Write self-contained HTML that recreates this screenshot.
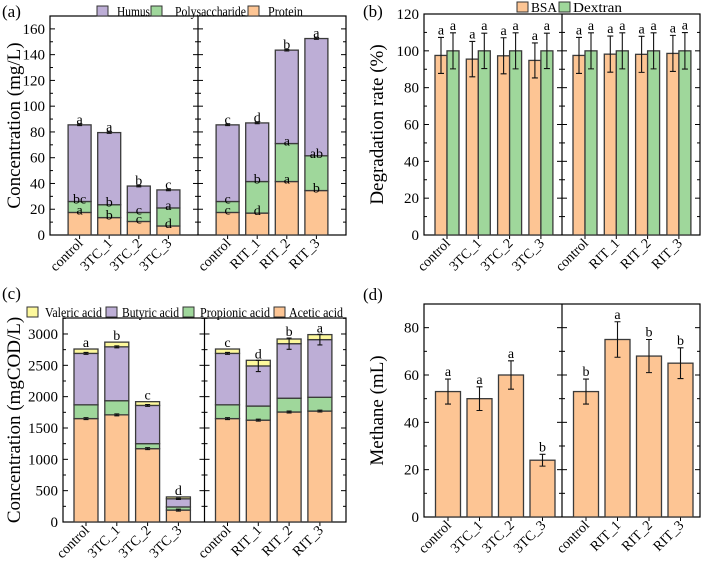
<!DOCTYPE html>
<html><head><meta charset="utf-8"><style>
body{margin:0;background:#fff}
svg, svg text{font-family:"Liberation Serif","DejaVu Serif",serif}
</style></head><body>
<svg id="s" width="709" height="560" viewBox="0 0 709 560" font-family="Liberation Serif, DejaVu Serif, serif"></svg>
<script>
// ---------- data ----------
const catsLeft = ["control","3TC_1","3TC_2","3TC_3"];
const catsRight = ["control","RIT_1","RIT_2","RIT_3"];
// panel a (mg/L)
const aProtein = [17.5,13.5,10.5,7, 17.5,17,41.5,34.5];
const aPolysaccharide = [8.5,10,7,14, 8.5,24.5,29.5,27];
const aHumus = [59.5,56,20.5,14, 59.5,45.5,72.5,91];
const aTopLetters = ["a","a","b","c","c","d","b","a"];
const aMidLetters = ["bc","b","c","a","c","b","a","ab"];
const aBotLetters = ["a","b","c","d","c","d","a","b"];
// panel b (%)
const bBSA = [97.5,95.5,97.3,94.8, 97.5,98.2,98.1,98.6];
const bBSAErr = [9.8,9.6,9.8,9.5, 9.8,9.8,9.8,9.8];
const bDextran = [100,100,100,100, 100,100,100,100];
const bDextranErr = [9.8,9.6,9.8,9.6, 9.8,9.8,9.8,9.9];
// panel c (mgCOD/L)
const cAcetic = [1650,1710,1170,190, 1650,1625,1755,1770];
const cPropionic = [220,225,80,50, 220,225,220,220];
const cButyric = [820,860,610,130, 820,640,870,920];
const cValeric = [70,75,60,30, 70,90,75,80];
const cButErr = [15,15,15,10, 15,90,90,85];
const cLetters = ["a","b","c","d","c","d","b","a"];
// panel d (mL)
const dMethane = [53,50,60,24, 53,75,68,65];
const dErr = [5.3,5,6,2.5, 5.3,7.5,7,6.5];
const dLetters = ["a","a","a","b","b","a","b","b"];
const cats = catsLeft.concat(catsRight);

const C = {or:"#fdc594",gr:"#9fd79b",pu:"#bdaed6",ye:"#fdf89c",ed:"#3a3a3a"};
const FF = "Liberation Serif, DejaVu Serif, serif";
const S = document.getElementById('s');
const NS = "http://www.w3.org/2000/svg";
function mk(tag, at, txt, parent){
  const e = document.createElementNS(NS, tag);
  for (const k in at) e.setAttribute(k, at[k]);
  if (txt !== undefined) { e.textContent = txt; e.setAttribute('font-family', FF); }
  (parent||S).appendChild(e);
  return e;
}

function panel(p){
  const g = mk('g',{});
  
  
  const y = v => p.y0 - (v/p.ymax)*(p.y0-p.top);
  p.yf = y;
  const half = (p.right-p.left)/2, mid = p.left+half;
  p.cx = i => (i<4 ? p.left : mid) + p.off + (i%4)*p.sp;
  const fr = mk('rect',{x:p.left,y:p.top,width:p.right-p.left,height:p.y0-p.top,fill:"none",stroke:"#000","stroke-width":1.2},undefined,g);
   
  const dv = mk('line',{x1:mid,x2:mid,y1:p.top,y2:p.y0,stroke:"#000","stroke-width":1.2},undefined,g);
   
  for (let v=0; v<=p.ymax+1e-9; v+=p.step/2){
    const major = Math.abs((v/p.step)-Math.round(v/p.step))<1e-6;
    const L = major?5:3, yy=y(v);
    [p.left, mid, p.right].forEach(x0=>{
      if (x0!==p.right) mk('line',{x1:x0,x2:x0+L,y1:yy,y2:yy,stroke:"#000","stroke-width":1},undefined,g);
      if (x0!==p.left) mk('line',{x1:x0,x2:x0-L,y1:yy,y2:yy,stroke:"#000","stroke-width":1},undefined,g);
    });
    if (major){
      const t = mk('text',{x:p.left-5,y:yy+5,"text-anchor":"end","font-size":15},String(Math.round(v)),g);
       
    }
  }
  const yt = mk('text',{x:0,y:0,transform:`translate(${p.ytx},${(p.top+p.y0)/2}) rotate(-90)`,"text-anchor":"middle","font-size":19},p.ytitle,g);
   
  cats.forEach((c,i)=>{
    const x = p.cx(i);
    mk('line',{x1:x,x2:x,y1:p.y0,y2:p.y0+4,stroke:"#000","stroke-width":1},undefined,g);
    const t = mk('text',{x:0,y:0,transform:`translate(${x+4},${p.y0+9}) rotate(-45)`,"text-anchor":"end","font-size":14},c,g);
     
  });
  const pl = mk('text',{x:p.lx,y:p.ly,"font-size":17},p.label,g);
   
  p.g = g;
  return p;
}
function bar(p,x,w,v0,v1,fill,name){
  const r = mk('rect',{x:x-w/2,y:p.yf(v1),width:w,height:p.yf(v0)-p.yf(v1),fill:fill,stroke:C.ed,"stroke-width":1.3},undefined,p.g);
   
}
function err(p,x,v,e,cap){
  const c=cap||3;
  const el = mk('path',{d:`M${x},${p.yf(v-e)}V${p.yf(v+e)}M${x-c},${p.yf(v-e)}h${2*c}M${x-c},${p.yf(v+e)}h${2*c}`,stroke:"#111","stroke-width":1.1,fill:"none"},undefined,p.g);
   
}
function txt(p,x,yy,s){
  const t = mk('text',{x:x,y:yy,"text-anchor":"middle","font-size":14},s,p.g);
   
}
// items: [swatchX, color, label, textX, textWidth]
function legend(items,yc,name){
  const g = mk('g',{});
   
  items.forEach(it=>{
    const r = mk('rect',{x:it[0],y:yc-5,width:11,height:10,fill:it[1],stroke:"#333","stroke-width":1},undefined,g);
     
    const t = mk('text',{x:it[3],y:yc+5,"font-size":14,textLength:it[4],lengthAdjust:"spacingAndGlyphs"},it[2],g);
     
  });
}

const A = panel({name:"panel-a",left:50,right:346,top:16,y0:235,ymax:170,step:20,off:29.6,sp:29.6,ytx:20,ytitle:"Concentration (mg/L)",label:"(a)",lx:2,ly:17});
cats.forEach((c,i)=>{
  const x=A.cx(i), w=23;
  const s1=aProtein[i], s2=s1+aPolysaccharide[i], s3=s2+aHumus[i];
  bar(A,x,w,0,s1,C.or,'bar-protein');
  bar(A,x,w,s1,s2,C.gr,'bar-polysaccharide');
  bar(A,x,w,s2,s3,C.pu,'bar-humus');
  err(A,x,s3,0.6,2.5);
  txt(A,x,A.yf(s3)-1,aTopLetters[i]);
  txt(A,x,A.yf(s2)+2,aMidLetters[i]);
  txt(A,x,A.yf(s1)+2,aBotLetters[i]);
});
legend([[97,C.pu,"Humus",117,33],[151,C.gr,"Polysaccharide",175,71],[248,C.or,"Protein",268,35]],11,"legend-a");

const B = panel({name:"panel-b",left:424,right:700,top:14,y0:235,ymax:120,step:20,off:23,sp:31.3,ytx:383,ytitle:"Degradation rate (%)",label:"(b)",lx:363,ly:17});
cats.forEach((c,i)=>{
  const x=B.cx(i), w=12;
  bar(B,x-6,w,0,bBSA[i],C.or,'bar-bsa');
  bar(B,x+6,w,0,bDextran[i],C.gr,'bar-dextran');
  err(B,x-6,bBSA[i],bBSAErr[i]);
  err(B,x+6,bDextran[i],bDextranErr[i]);
  txt(B,x-6,B.yf(bBSA[i]+bBSAErr[i])-3,"a");
  txt(B,x+6,B.yf(bDextran[i]+bDextranErr[i])-3,"a");
});
legend([[517,C.or,"BSA",531,26],[559,C.gr,"Dextran",573,49]],7,"legend-b");

const Cp = panel({name:"panel-c",left:63,right:346,top:318,y0:522,ymax:3255,step:500,off:23,sp:30.8,ytx:20,ytitle:"Concentration (mgCOD/L)",label:"(c)",lx:2,ly:299});
cats.forEach((c,i)=>{
  const x=Cp.cx(i), w=24;
  const s1=cAcetic[i], s2=s1+cPropionic[i], s3=s2+cButyric[i], s4=s3+cValeric[i];
  bar(Cp,x,w,0,s1,C.or,'bar-acetic');
  bar(Cp,x,w,s1,s2,C.gr,'bar-propionic');
  bar(Cp,x,w,s2,s3,C.pu,'bar-butyric');
  bar(Cp,x,w,s3,s4,C.ye,'bar-valeric');
  err(Cp,x,s1,15,2.5);
  err(Cp,x,s3,cButErr[i],2.5);
  txt(Cp,x,Cp.yf(Math.max(s4,s3+cButErr[i]))-2,cLetters[i]);
});
legend([[27,C.ye,"Valeric acid",45,57],[106,C.pu,"Butyric acid",122,57],[183,C.gr,"Propionic acid",200,70],[274,C.or,"Acetic acid",289,54]],312,"legend-c");

const D = panel({name:"panel-d",left:424,right:700,top:304,y0:517,ymax:90,step:20,off:24,sp:31.5,ytx:383,ytitle:"Methane (mL)",label:"(d)",lx:363,ly:300});
cats.forEach((c,i)=>{
  const x=D.cx(i), w=25;
  bar(D,x,w,0,dMethane[i],C.or,'bar-methane');
  err(D,x,dMethane[i],dErr[i]);
  txt(D,x,D.yf(dMethane[i]+dErr[i])-3,dLetters[i]);
});
</script>
</body></html>
